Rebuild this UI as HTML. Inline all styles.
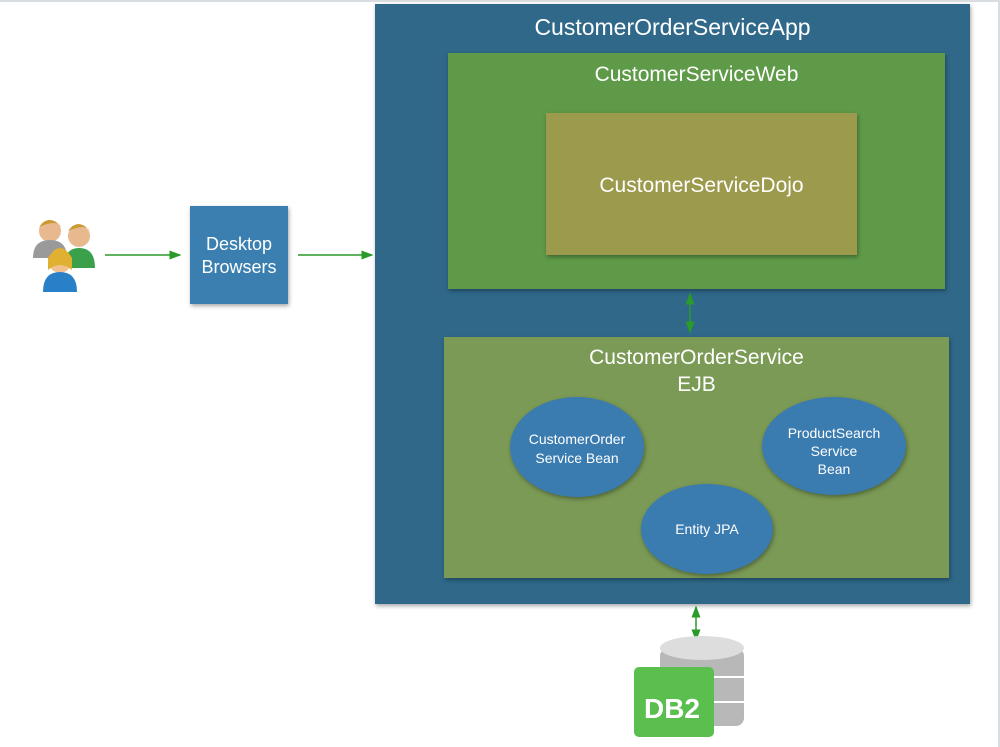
<!DOCTYPE html>
<html><head><style>
body{margin:0;width:1000px;height:747px;background:#fff;position:relative;font-family:"Liberation Sans",sans-serif;overflow:hidden}
div.b{position:absolute;box-sizing:border-box;color:#fff;text-align:center}
.sh{box-shadow:1px 2px 4px rgba(0,0,0,.35)}
</style></head><body>
<div style="position:absolute;left:0;top:0;width:1000px;height:2px;background:#d8dde2"></div>
<div style="position:absolute;right:0;top:0;width:2px;height:747px;background:#d8dde2"></div>
<div class="b sh" style="left:375px;top:4px;width:595px;height:600px;background:#2f6889;font-size:23px;padding-top:10px">CustomerOrderServiceApp</div>
<div class="b sh" style="left:448px;top:53px;width:497px;height:236px;background:#5e9a48;font-size:21px;padding-top:10px">CustomerServiceWeb</div>
<div class="b sh" style="left:546px;top:113px;width:311px;height:142px;background:#9c9a4c;font-size:21px;padding-top:61px">CustomerServiceDojo</div>
<div class="b sh" style="left:444px;top:337px;width:505px;height:241px;background:#7b9a55;font-size:21px;padding-top:7px;line-height:27px">CustomerOrderService<br>EJB</div>
<div class="b sh" style="left:190px;top:206px;width:98px;height:98px;background:#3a7fb0;font-size:18px;padding-top:27px;line-height:23px">Desktop<br>Browsers</div>
<svg width="1000" height="747" style="position:absolute;left:0;top:0">
<defs><marker id="a" markerWidth="8" markerHeight="8" refX="7" refY="4" orient="auto"><path d="M0,1 L8,4 L0,7z" fill="#2a9a2a"/></marker>
<marker id="s" markerWidth="8" markerHeight="8" refX="1" refY="4" orient="auto"><path d="M8,1 L0,4 L8,7z" fill="#2a9a2a"/></marker></defs>
<g stroke="#2a9a2a" stroke-width="1.5">
<line x1="105" y1="255" x2="180" y2="255" marker-end="url(#a)"/>
<line x1="298" y1="255" x2="372" y2="255" marker-end="url(#a)"/>
<line x1="690" y1="294" x2="690" y2="332" marker-end="url(#a)" marker-start="url(#s)"/>
<line x1="696" y1="607" x2="696" y2="640" marker-end="url(#a)" marker-start="url(#s)"/>
</g>
<g fill="#3a7bb0" style="filter:drop-shadow(1px 2px 2px rgba(0,0,0,.35))">
<ellipse cx="577" cy="447" rx="67" ry="50"/>
<ellipse cx="834" cy="446" rx="72" ry="49"/>
<ellipse cx="707" cy="529" rx="66" ry="45"/>
</g>
<g fill="#fff" font-family="Liberation Sans,sans-serif" font-size="14" text-anchor="middle">
<text x="577" y="444">CustomerOrder</text><text x="577" y="463">Service Bean</text>
<text x="834" y="438">ProductSearch</text><text x="834" y="456">Service</text><text x="834" y="474">Bean</text>
<text x="707" y="534">Entity JPA</text>
</g>
<!-- people -->
<g>
<circle cx="50" cy="231" r="11" fill="#e8b98e"/><path d="M33,258 q0,-18 17,-18 q17,0 17,18z" fill="#9a9a9a"/>
<circle cx="79" cy="236" r="11" fill="#e8b98e"/><path d="M64,268 q0,-20 15,-20 q16,0 16,20z" fill="#3aa04a"/>
<path d="M68,231 q10,-14 22,0 q-4,-8 -22,0z" fill="#c89a30"/><path d="M39,227 q10,-14 22,0 q-4,-8 -22,0z" fill="#c89a30"/>
<circle cx="60" cy="262" r="11" fill="#f0c08e"/><path d="M48,258 q12,-20 24,0 l0,12 q-12,-10 -24,0z" fill="#e0b030"/>
<path d="M43,292 q0,-20 17,-20 q17,0 17,20z" fill="#2a80c8"/>
</g>
<!-- DB -->
<g>
<rect x="660" y="648" width="84" height="78" rx="8" fill="#b8b8b8"/>
<ellipse cx="702" cy="648" rx="42" ry="12" fill="#ddd"/>
<line x1="660" y1="677" x2="744" y2="677" stroke="#fff" stroke-width="2"/>
<line x1="660" y1="702" x2="744" y2="702" stroke="#fff" stroke-width="2"/>
<rect x="634" y="667" width="80" height="70" rx="5" fill="#5abf4f"/>
<text x="672" y="718" fill="#fff" font-family="Liberation Sans,sans-serif" font-weight="bold" font-size="28" text-anchor="middle">DB2</text>
</g>
</svg>
</body></html>
